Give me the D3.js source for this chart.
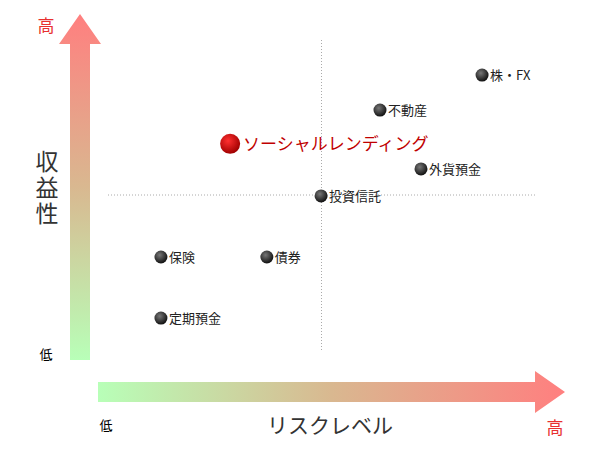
<!DOCTYPE html>
<html><head><meta charset="utf-8">
<script src="https://cdn.jsdelivr.net/npm/d3@7"></script>
<style>body{margin:0;background:#fff}text{font-family:"Noto Sans CJK JP",sans-serif}</style>
</head><body>
<script>
// risk (x) and return (y), 0-100 scale
var names = ["株・FX", "不動産", "ソーシャルレンディング", "外貨預金", "投資信託", "保険", "債券", "定期預金"];
var risk = [87.6, 63.7, 28.6, 73.3, 49.9, 12.4, 37.2, 12.4];
var ret = [88.7, 77.4, 66.5, 58.4, 49.7, 30.0, 30.0, 10.3];
var highlight = "ソーシャルレンディング";

var width = 600, height = 450;
var svg = d3.select("body").append("svg").attr("width", width).attr("height", height);

var x = d3.scaleLinear().domain([0, 100]).range([108, 535]);
var y = d3.scaleLinear().domain([0, 100]).range([350, 40]);

var defs = svg.append("defs");
var gv = defs.append("linearGradient").attr("id", "gv").attr("x1", 0).attr("y1", 1).attr("x2", 0).attr("y2", 0);
gv.append("stop").attr("offset", "0%").attr("stop-color", "#b8ffb8");
gv.append("stop").attr("offset", "50%").attr("stop-color", "#d9b890");
gv.append("stop").attr("offset", "100%").attr("stop-color", "#ff7f7f");
var gh = defs.append("linearGradient").attr("id", "gh");
gh.append("stop").attr("offset", "0%").attr("stop-color", "#b8ffb8");
gh.append("stop").attr("offset", "50%").attr("stop-color", "#d9b890");
gh.append("stop").attr("offset", "100%").attr("stop-color", "#ff7f7f");
var gd = defs.append("radialGradient").attr("id", "gd").attr("cx", "40%").attr("cy", "35%").attr("r", "65%");
gd.append("stop").attr("offset", "0%").attr("stop-color", "#777");
gd.append("stop").attr("offset", "100%").attr("stop-color", "#111");
var gr = defs.append("radialGradient").attr("id", "gr").attr("cx", "40%").attr("cy", "35%").attr("r", "65%");
gr.append("stop").attr("offset", "0%").attr("stop-color", "#ff3030");
gr.append("stop").attr("offset", "100%").attr("stop-color", "#a00000");

// arrows
svg.append("path").attr("d", "M70,360L70,44L59,44L80,14L101,44L90,44L90,360Z").attr("fill", "url(#gv)");
svg.append("path").attr("d", "M98,382L535,382L535,371L565,392L535,413L535,402L98,402Z").attr("fill", "url(#gh)");

// crosshair
svg.append("line").attr("x1", x(50)).attr("x2", x(50)).attr("y1", y(100)).attr("y2", y(0))
  .attr("stroke", "#aaa").attr("stroke-dasharray", "1,2");
svg.append("line").attr("x1", x(0)).attr("x2", x(100)).attr("y1", y(50)).attr("y2", y(50))
  .attr("stroke", "#aaa").attr("stroke-dasharray", "1,2");

// axis labels
svg.append("text").attr("x", 46).attr("y", 32).attr("text-anchor", "middle").attr("font-size", 17).attr("fill", "#e83030").text("高");
svg.append("text").attr("x", 46).attr("y", 359).attr("text-anchor", "middle").attr("font-size", 13).text("低");
svg.append("text").attr("x", 106).attr("y", 430).attr("text-anchor", "middle").attr("font-size", 13).text("低");
svg.append("text").attr("x", 555).attr("y", 434).attr("text-anchor", "middle").attr("font-size", 17).attr("fill", "#e83030").text("高");
["収", "益", "性"].forEach(function(c, i) {
  svg.append("text").attr("x", 47).attr("y", 170 + i * 26).attr("text-anchor", "middle")
    .attr("font-size", 23).attr("fill", "#333").text(c);
});
svg.append("text").attr("x", 330).attr("y", 433).attr("text-anchor", "middle").attr("font-size", 21).attr("fill", "#333").text("リスクレベル");

// points
var data = names.map(function(n, i) { return {name: n, risk: risk[i], ret: ret[i]}; });
var pt = svg.selectAll("g.pt").data(data).enter().append("g")
  .attr("transform", function(d) { return "translate(" + x(d.risk) + "," + y(d.ret) + ")"; });
pt.append("circle").attr("r", function(d) { return d.name === highlight ? 10 : 6.5; })
  .attr("fill", function(d) { return d.name === highlight ? "url(#gr)" : "url(#gd)"; });
pt.append("text").attr("x", function(d) { return d.name === highlight ? 13 : 8; })
  .attr("dy", "0.36em")
  .attr("font-size", function(d) { return d.name === highlight ? 17 : 13; })
  .attr("fill", function(d) { return d.name === highlight ? "#c00000" : "#222"; })
  .text(function(d) { return d.name; });
</script>
</body></html>
